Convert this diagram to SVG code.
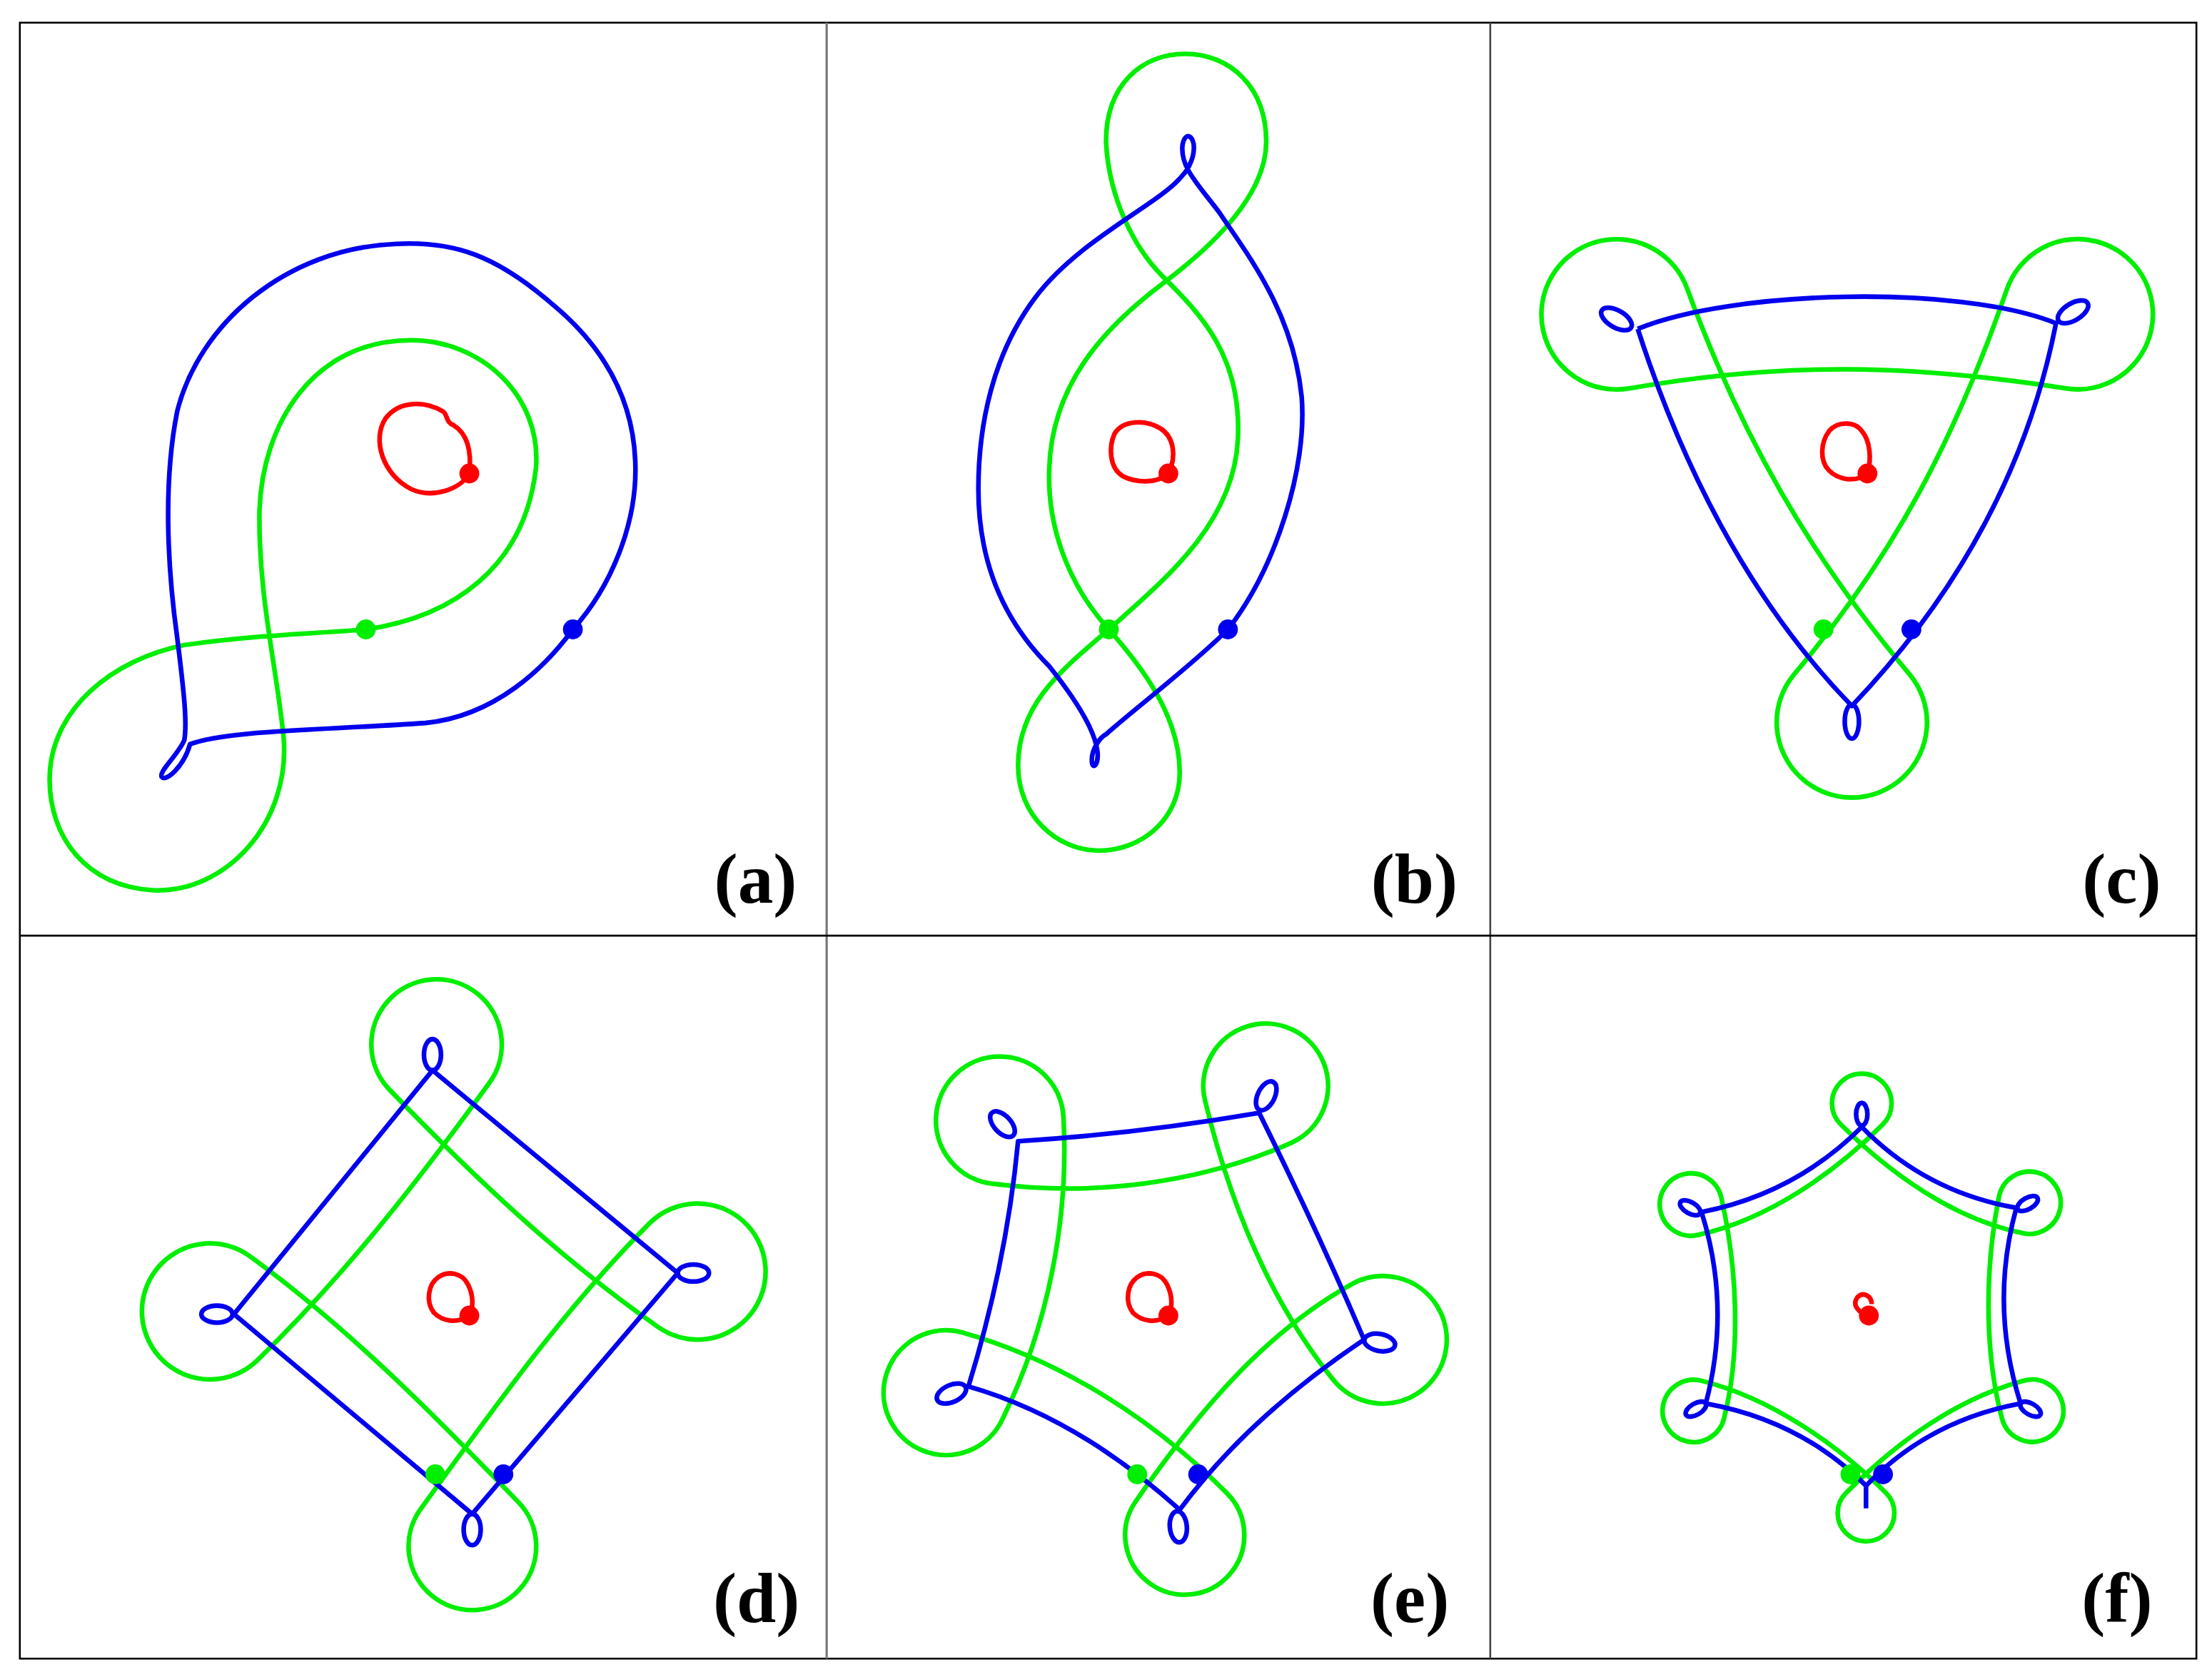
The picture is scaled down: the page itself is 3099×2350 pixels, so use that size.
<svg xmlns="http://www.w3.org/2000/svg" width="3099" height="2350" viewBox="0 0 3099 2350">
<style>
.g{fill:none;stroke:#00ee00;stroke-width:3.3;stroke-linejoin:round}
.b{fill:none;stroke:#0000ee;stroke-width:3.3;stroke-linejoin:round}
.r{fill:none;stroke:#ff0000;stroke-width:3.3;stroke-linejoin:round}
.gd{fill:#00ee00}.bd{fill:#0000ee}.rd{fill:#ff0000}
.lab{font-family:"Liberation Serif",serif;font-weight:bold;font-size:50px;text-anchor:end;fill:#000}
</style>
<rect width="3099" height="2350" fill="#fff"/>
<g transform="scale(1.98654)">
<g id="frame">
<rect x="14" y="16" width="1535" height="1154" fill="none" stroke="#000" stroke-width="1.3"/>
<line x1="583" y1="16" x2="583" y2="1170" stroke="#777" stroke-width="1.6"/>
<line x1="1051" y1="16" x2="1051" y2="1170" stroke="#444" stroke-width="1.3"/>
<line x1="14" y1="660" x2="1549" y2="660" stroke="#000" stroke-width="1.3"/>
</g>
<g id="panel-a">
<path class="g" d="M258,444 C320,435 370,400 378,330 C382,280 340,240 290,240 C220,240 185,300 183,360 C182,420 195,470 200,520 C205,580 160,630 108,628 C60,625 35,590 35,550 C35,500 80,465 130,455 C180,448 220,447 258,444 Z"/>
<path class="b" d="M404,444 C430,415 450,370 448,325 C446,275 420,240 390,215 C350,180 320,170 280,172 C200,175 140,230 125,290 C115,340 118,400 125,450 C130,490 132,510 130,522 C126,532 112,544 114,548 C117,552 130,540 134,525 C160,515 230,515 300,510 C350,505 385,470 404,444"/>
<path class="r" d="M331,334 C325,345 305,352 290,345 C270,335 262,310 272,295 C282,282 300,283 312,290 C316,292 314,298 320,300 C328,305 333,315 331,334"/>
<circle class="gd" cx="258" cy="444" r="7"/><circle class="bd" cx="404" cy="444" r="7"/><circle class="rd" cx="331" cy="334" r="7"/>
<text class="lab" x="562" y="637">(a)</text>
</g>
<g id="panel-b">
<path class="g" d="M782,444 C820,410 870,370 873,310 C876,250 845,220 820,195 C800,175 782,140 780,100 C780,60 805,38 836,38 C868,38 893,62 893,100 C893,135 860,170 820,200 C780,230 742,270 740,330 C738,380 760,420 782,444 C805,470 832,505 832,545 C832,578 805,600 775,600 C745,600 718,575 718,540 C718,495 752,470 782,444 Z"/>
<path class="b" d="M866,444 C900,400 922,330 918,280 C912,220 880,180 860,150 C845,130 832,118 834,102 C836,92 842,96 842,104 C842,114 836,122 832,126 C815,145 760,170 730,210 C700,250 690,300 690,345 C690,400 710,440 740,470 C760,495 772,515 774,530 C775,540 770,544 770,536 C770,528 776,520 780,518 C800,500 840,470 866,444"/>
<path class="r" d="M824,334 C815,342 800,340 792,336 C782,330 782,315 786,306 C792,296 808,296 818,302 C828,308 830,322 824,334"/>
<circle class="gd" cx="782" cy="444" r="7"/><circle class="bd" cx="866" cy="444" r="7"/><circle class="rd" cx="824" cy="334" r="7"/>
<text class="lab" x="1028" y="637">(b)</text>
</g>
<g id="panel-c">
<path class="g" d="M1190,204 A53,53 0 1 0 1149,274 C1257,255 1348,257 1457,274 A53,53 0 1 0 1415,205 C1379,309 1336,392 1265,476 A53,53 0 1 0 1347,476 C1276,392 1228,307 1190,204 Z"/>
<path class="b" d="M1155,232 C1220,205 1380,200 1450,228 C1430,330 1380,420 1306,498 C1240,430 1190,340 1155,232"/>
<ellipse class="b" cx="1140" cy="225" rx="12" ry="6" transform="rotate(30 1140 225)"/>
<ellipse class="b" cx="1462" cy="220" rx="12" ry="6" transform="rotate(-31 1462 220)"/>
<ellipse class="b" cx="1306" cy="509" rx="12" ry="5" transform="rotate(90 1306 509)"/>
<path class="r" d="M1317,334 C1308,341 1296,338 1290,332 C1283,325 1284,312 1290,304 C1296,297 1308,297 1313,304 C1319,311 1320,324 1317,334"/>
<circle class="gd" cx="1286" cy="444" r="7"/><circle class="bd" cx="1348" cy="444" r="7"/><circle class="rd" cx="1317" cy="334" r="7"/>
<text class="lab" x="1524" y="637">(c)</text>
</g>
<g id="panel-d">
<path class="g" d="M345,764 A46,46 0 1 0 275,769 C334,830 394,887 464,936 A48,48 0 1 0 458,863 C398,923 347,995 297,1064 A45,45 0 1 0 365,1059 C306,998 245,936 176,886 A48,48 0 1 0 181,960 C242,901 295,833 345,764 Z"/>
<path class="b" d="M305,755 L478,898 L333,1068 L165,927 Z"/>
<ellipse class="b" cx="305" cy="744" rx="11" ry="6" transform="rotate(90 305 744)"/>
<ellipse class="b" cx="489" cy="898" rx="11" ry="6"/>
<ellipse class="b" cx="333" cy="1079" rx="11" ry="6" transform="rotate(90 333 1079)"/>
<ellipse class="b" cx="153" cy="927" rx="11" ry="6"/>
<path class="r" d="M331,928 C322,934 312,932 306,926 C300,918 302,906 309,901 C316,896 326,898 330,906 C334,914 334,922 331,928"/>
<circle class="gd" cx="307" cy="1040" r="7"/><circle class="bd" cx="355" cy="1040" r="7"/><circle class="rd" cx="331" cy="928" r="7"/>
<text class="lab" x="564" y="1144">(d)</text>
</g>
<g id="panel-e">
<path class="g" d="M750,788 A45,45 0 1 0 700,835 C771,844 846,835 911,806 A44,44 0 1 0 850,777 C867,847 895,917 940,973 A45,45 0 1 0 953,906 C890,941 842,1000 801,1059 A42,42 0 1 0 865,1053 C813,1001 749,960 679,940 A44,44 0 1 0 707,1001 C739,936 754,860 750,788 Z"/>
<path class="b" d="M718,805 Q800,800 888,785 Q930,870 962,945 Q880,1000 832,1065 Q760,1000 683,978 Q710,890 718,805 Z"/>
<ellipse class="b" cx="707" cy="793" rx="11" ry="6" transform="rotate(47 707 793)"/>
<ellipse class="b" cx="893" cy="773" rx="11" ry="6" transform="rotate(-64 893 773)"/>
<ellipse class="b" cx="973" cy="947" rx="11" ry="6" transform="rotate(11 973 947)"/>
<ellipse class="b" cx="831" cy="1077" rx="11" ry="6" transform="rotate(85 831 1077)"/>
<ellipse class="b" cx="671" cy="983" rx="11" ry="6" transform="rotate(-24 671 983)"/>
<path class="r" d="M824,928 C815,934 805,932 799,926 C793,918 795,906 802,901 C809,896 819,898 823,906 C827,914 827,922 824,928"/>
<circle class="gd" cx="802" cy="1040" r="7"/><circle class="bd" cx="845" cy="1040" r="7"/><circle class="rd" cx="824" cy="928" r="7"/>
<text class="lab" x="1022" y="1144">(e)</text>
</g>
<g id="panel-f">
<path class="g" d="M1328,793 A21,21 0 1 0 1298,793 C1333,828 1378,860 1427,870 A22,22 0 1 0 1410,843 C1400,892 1399,953 1412,1001 A22,22 0 1 0 1427,974 C1379,987 1337,1018 1302,1053 A20,20 0 1 0 1330,1053 C1295,1018 1248,986 1200,974 A22,22 0 1 0 1216,1000 C1228,952 1225,894 1214,845 A22,22 0 1 0 1198,871 C1247,860 1293,828 1328,793 Z"/>
<path class="b" d="M1313,795 Q1358,841 1422,852 Q1403,921 1425,990 Q1360,1002 1316,1048 Q1270,1002 1203,990 Q1221,922 1200,855 Q1266,842 1313,795 Z"/>
<ellipse class="b" cx="1313" cy="786" rx="8" ry="4" transform="rotate(90 1313 786)"/>
<ellipse class="b" cx="1430" cy="849" rx="8" ry="4" transform="rotate(-30 1430 849)"/>
<ellipse class="b" cx="1432" cy="994" rx="8" ry="4" transform="rotate(30 1432 994)"/>
<line class="b" x1="1316" y1="1048" x2="1316" y2="1064"/>
<ellipse class="b" cx="1196" cy="994" rx="8" ry="4" transform="rotate(-30 1196 994)"/>
<ellipse class="b" cx="1192" cy="852" rx="8" ry="4" transform="rotate(30 1192 852)"/>
<path class="r" d="M1318,928 C1310,926 1306,920 1310,915 C1314,911 1320,914 1320,920"/>
<circle class="gd" cx="1305" cy="1040" r="7"/><circle class="bd" cx="1328" cy="1040" r="7"/><circle class="rd" cx="1318" cy="928" r="7"/>
<text class="lab" x="1518" y="1144">(f)</text>
</g>
</g>
</svg>
